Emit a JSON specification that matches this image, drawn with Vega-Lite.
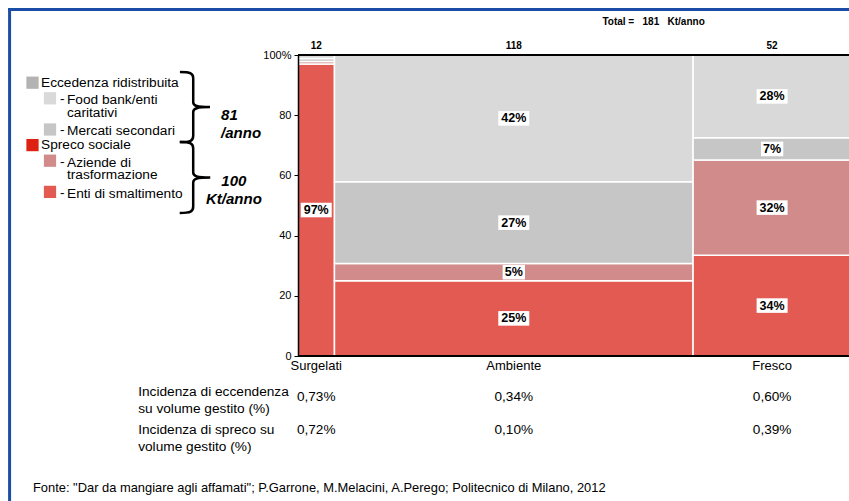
{
  "$schema": "https://vega.github.io/schema/vega-lite/v6.json",
  "width": 551,
  "height": 301,
  "autosize": "none",
  "padding": {"left": 298, "top": 55, "right": 0, "bottom": 145},
  "background": "white",
  "config": {"view": {"stroke": null}, "font": "Liberation Sans", "text": {"font": "Liberation Sans", "color": "black"}},
  "datasets": {
    "seg": [
      {"cat": "Surgelati", "vol": 12, "co": 0, "seg": "Enti di smaltimento", "so": 0, "pct": 97, "label": "97%"},
      {"cat": "Surgelati", "vol": 12, "co": 0, "seg": "Aziende di trasformazione", "so": 1, "pct": 0.8, "label": ""},
      {"cat": "Surgelati", "vol": 12, "co": 0, "seg": "Mercati secondari", "so": 2, "pct": 1.0, "label": ""},
      {"cat": "Surgelati", "vol": 12, "co": 0, "seg": "Food bank/enti caritativi", "so": 3, "pct": 1.2, "label": ""},
      {"cat": "Ambiente", "vol": 118, "co": 1, "seg": "Enti di smaltimento", "so": 0, "pct": 25, "label": "25%"},
      {"cat": "Ambiente", "vol": 118, "co": 1, "seg": "Aziende di trasformazione", "so": 1, "pct": 5.7, "label": "5%"},
      {"cat": "Ambiente", "vol": 118, "co": 1, "seg": "Mercati secondari", "so": 2, "pct": 27.2, "label": "27%"},
      {"cat": "Ambiente", "vol": 118, "co": 1, "seg": "Food bank/enti caritativi", "so": 3, "pct": 42.1, "label": "42%"},
      {"cat": "Fresco", "vol": 52, "co": 2, "seg": "Enti di smaltimento", "so": 0, "pct": 33.5, "label": "34%"},
      {"cat": "Fresco", "vol": 52, "co": 2, "seg": "Aziende di trasformazione", "so": 1, "pct": 31.6, "label": "32%"},
      {"cat": "Fresco", "vol": 52, "co": 2, "seg": "Mercati secondari", "so": 2, "pct": 7.4, "label": "7%"},
      {"cat": "Fresco", "vol": 52, "co": 2, "seg": "Food bank/enti caritativi", "so": 3, "pct": 27.5, "label": "28%"}
    ],
    "cols": [
      {"cat": "Surgelati", "vol": 12, "co": 0, "ecc": "0,73%", "spr": "0,72%"},
      {"cat": "Ambiente", "vol": 118, "co": 1, "ecc": "0,34%", "spr": "0,10%"},
      {"cat": "Fresco", "vol": 52, "co": 2, "ecc": "0,60%", "spr": "0,39%"}
    ],
    "legend": [
      {"ord": 0, "seg": "Eccedenza ridistribuita", "txt": "Eccedenza ridistribuita", "lvl": 0},
      {"ord": 1, "seg": "Food bank/enti caritativi", "txt": "Food bank/enti\ncaritativi", "lvl": 1},
      {"ord": 2, "seg": "Mercati secondari", "txt": "Mercati secondari", "lvl": 1},
      {"ord": 3, "seg": "Spreco sociale", "txt": "Spreco sociale", "lvl": 0},
      {"ord": 4, "seg": "Aziende di trasformazione", "txt": "Aziende di\ntrasformazione", "lvl": 1},
      {"ord": 5, "seg": "Enti di smaltimento", "txt": "Enti di smaltimento", "lvl": 1}
    ]
  },
  "layer": [
    {
      "data": {"name": "seg"},
      "transform": [
        {"calculate": "datum.vol*datum.pct/100", "as": "kt"},
        {"stack": "kt", "groupby": [], "sort": [{"field": "co"}, {"field": "so"}], "as": ["s0", "s1"]},
        {"joinaggregate": [{"op": "min", "field": "s0", "as": "x"}, {"op": "max", "field": "s1", "as": "x2"}], "groupby": ["cat"]},
        {"stack": "pct", "groupby": ["cat"], "sort": [{"field": "so"}], "as": ["y", "y2"]},
        {"calculate": "(datum.x+datum.x2)/2", "as": "xc"},
        {"calculate": "(datum.y+datum.y2)/2", "as": "yc"}
      ],
      "layer": [
        {
          "mark": {"type": "rect", "stroke": "white", "strokeWidth": 1.5},
          "encoding": {
            "x": {"field": "x", "type": "quantitative", "scale": {"domain": [0, 181.3], "nice": false, "zero": false}, "axis": null},
            "x2": {"field": "x2"},
            "y": {"field": "y", "type": "quantitative", "scale": {"domain": [0, 100], "nice": false},
              "axis": {"orient": "left", "values": [0, 20, 40, 60, 80, 100], "labelExpr": "datum.value==100 ? '100%' : datum.label", "title": null, "grid": false,
                "domainColor": "black", "domainWidth": 1.5, "tickColor": "black", "tickSize": 4, "labelFontSize": 11, "labelColor": "black",
                "labelPadding": 3, "zindex": 1, "labelFont": "Liberation Sans"}},
            "y2": {"field": "y2"},
            "color": {"field": "seg", "type": "nominal", "legend": null,
              "scale": {"domain": ["Eccedenza ridistribuita", "Food bank/enti caritativi", "Mercati secondari", "Spreco sociale", "Aziende di trasformazione", "Enti di smaltimento"],
                "range": ["#b3b3b3", "#d9d9d9", "#c6c6c6", "#dd2211", "#d18b8b", "#e25a52"]}}
          }
        },
        {
          "transform": [{"filter": "datum.label != ''"}],
          "mark": {"type": "point", "filled": true, "color": "white", "opacity": 1, "size": 961, "strokeWidth": 0},
          "encoding": {
            "x": {"field": "xc", "type": "quantitative", "axis": null},
            "y": {"field": "yc", "type": "quantitative"},
            "shape": {"condition": {"test": "length(datum.label) < 3", "value": "M-0.72,-0.47L0.72,-0.47L0.72,0.47L-0.72,0.47Z"}, "value": "M-1,-0.47L1,-0.47L1,0.47L-1,0.47Z"}
          }
        },
        {
          "transform": [{"filter": "datum.label != ''"}],
          "mark": {"type": "text", "fontWeight": "bold", "fontSize": 12.5, "color": "black", "baseline": "middle"},
          "encoding": {
            "x": {"field": "xc", "type": "quantitative", "axis": null},
            "y": {"field": "yc", "type": "quantitative"},
            "text": {"field": "label"}
          }
        }
      ]
    },
    {
      "data": {"name": "cols"},
      "transform": [
        {"stack": "vol", "groupby": [], "sort": [{"field": "co"}], "as": ["c0", "c1"]},
        {"calculate": "(datum.c0+datum.c1)/2", "as": "xc"}
      ],
      "layer": [
        {
          "mark": {"type": "text", "fontWeight": "bold", "fontSize": 10, "dy": -9},
          "encoding": {"x": {"field": "xc", "type": "quantitative", "axis": null}, "y": {"datum": 100}, "text": {"field": "vol"}}
        },
        {
          "mark": {"type": "text", "fontSize": 13, "dy": 10},
          "encoding": {"x": {"field": "xc", "type": "quantitative", "axis": null}, "y": {"datum": 0}, "text": {"field": "cat"}}
        },
        {
          "mark": {"type": "text", "fontSize": 13.6},
          "encoding": {"x": {"field": "xc", "type": "quantitative", "axis": null}, "y": {"datum": -13.6}, "text": {"field": "ecc"}}
        },
        {
          "mark": {"type": "text", "fontSize": 13.6},
          "encoding": {"x": {"field": "xc", "type": "quantitative", "axis": null}, "y": {"datum": -24.6}, "text": {"field": "spr"}}
        }
      ]
    },
    {
      "data": {"values": [{}]},
      "layer": [
        {"mark": {"type": "rule", "color": "black", "strokeWidth": 2}, "encoding": {"y": {"datum": 100}}},
        {"mark": {"type": "rule", "color": "black", "strokeWidth": 2}, "encoding": {"y": {"datum": 0}}},
        {"mark": {"type": "rule", "color": "#1a4ea6", "strokeWidth": 3},
          "encoding": {"x": {"datum": -94.9, "axis": null}, "y": {"datum": 115.6}, "y2": {"datum": -60}}},
        {"mark": {"type": "rule", "color": "#1a4ea6", "strokeWidth": 3},
          "encoding": {"x": {"datum": -95.4, "axis": null}, "x2": {"datum": 190}, "y": {"datum": 115.1}}},
        {"mark": {"type": "text", "fontWeight": "bold", "fontSize": 10, "text": "Total =\u00a0\u00a0 181\u00a0\u00a0 Kt/anno"},
          "encoding": {"x": {"datum": 117.0, "axis": null}, "y": {"datum": 111.0}}},
        {"mark": {"type": "text", "fontSize": 13.7, "align": "left", "lineHeight": 17, "baseline": "middle"},
          "encoding": {"x": {"datum": -52.6, "axis": null}, "y": {"datum": -12.1}, "text": {"value": ["Incidenza di eccendenza", "su volume gestito (%)"]}}},
        {"mark": {"type": "text", "fontSize": 13.7, "align": "left", "lineHeight": 17, "baseline": "middle"},
          "encoding": {"x": {"datum": -52.6, "axis": null}, "y": {"datum": -24.75}, "text": {"value": ["Incidenza di spreco su", "volume gestito (%)"]}}},
        {"mark": {"type": "text", "fontSize": 12.9, "align": "left", "baseline": "middle"},
          "encoding": {"x": {"datum": -87.2, "axis": null}, "y": {"datum": -43.9}, "text": {"value": "Fonte: \"Dar da mangiare agli affamati\"; P.Garrone, M.Melacini, A.Perego; Politecnico di Milano, 2012"}}},
        {"mark": {"type": "point", "filled": false, "color": "black", "strokeWidth": 2.5, "opacity": 1, "size": 4900,
            "shape": "M-0.43,-1C-0.12,-1,-0.05,-0.96,-0.05,-0.82L-0.05,-0.14C-0.05,-0.04,0.05,0,0.43,0C0.05,0,-0.05,0.04,-0.05,0.14L-0.05,0.82C-0.05,0.96,-0.12,1,-0.43,1"},
          "encoding": {"x": {"datum": -33.9, "axis": null}, "y": {"datum": 82.7}}},
        {"mark": {"type": "point", "filled": false, "color": "black", "strokeWidth": 2.5, "opacity": 1, "size": 5041,
            "shape": "M-0.43,-1C-0.12,-1,-0.05,-0.96,-0.05,-0.82L-0.05,-0.14C-0.05,-0.04,0.05,0,0.43,0C0.05,0,-0.05,0.04,-0.05,0.14L-0.05,0.82C-0.05,0.96,-0.12,1,-0.43,1"},
          "encoding": {"x": {"datum": -33.9, "axis": null}, "y": {"datum": 59.3}}},
        {"mark": {"type": "text", "fontSize": 15, "fontWeight": "bold", "fontStyle": "italic", "align": "left", "lineHeight": 18, "baseline": "middle"},
          "encoding": {"x": {"datum": -25.3, "axis": null}, "y": {"datum": 80.1}, "text": {"value": ["81", "/anno"]}}},
        {"mark": {"type": "text", "fontSize": 15, "fontWeight": "bold", "fontStyle": "italic", "align": "center", "lineHeight": 18, "baseline": "middle"},
          "encoding": {"x": {"datum": -21.1, "axis": null}, "y": {"datum": 58.1}, "text": {"value": ["100", "Kt/anno"]}}}
      ]
    },
    {
      "data": {"name": "legend"},
      "transform": [
        {"calculate": "length(split(datum.txt, '\\n'))", "as": "nl"},
        {"window": [{"op": "sum", "field": "nl", "as": "cum"}], "sort": [{"field": "ord"}], "frame": [null, 0]},
        {"calculate": "datum.cum - datum.nl", "as": "line"}
      ],
      "encoding": {
        "x": {"datum": -87.36, "axis": null},
        "xOffset": {"field": "lvl", "type": "quantitative", "scale": {"domain": [0, 1], "range": [0, 17.5], "nice": false, "zero": false}},
        "y": {"datum": 90.8},
        "yOffset": {"field": "line", "type": "quantitative", "scale": {"domain": [0, 7], "range": [0, 109.2], "nice": false, "zero": false}}
      },
      "layer": [
        {
          "mark": {"type": "point", "shape": "square", "filled": true, "opacity": 1, "size": 150},
          "encoding": {"color": {"field": "seg", "type": "nominal", "legend": null}}
        },
        {
          "transform": [{"filter": "datum.lvl == 0"}],
          "mark": {"type": "text", "align": "left", "baseline": "middle", "fontSize": 13.7, "dx": 8.5},
          "encoding": {"text": {"field": "txt"}}
        },
        {
          "transform": [{"filter": "datum.lvl == 1"}],
          "mark": {"type": "text", "align": "left", "baseline": "top", "fontSize": 13.7, "dx": 17, "dy": -5, "lineBreak": "\n", "lineHeight": 12.5},
          "encoding": {"text": {"field": "txt"}}
        },
        {
          "transform": [{"filter": "datum.lvl == 1"}],
          "mark": {"type": "text", "align": "left", "baseline": "middle", "fontSize": 13.7, "dx": 10, "dy": 1, "text": "-"}
        }
      ]
    }
  ]
}
